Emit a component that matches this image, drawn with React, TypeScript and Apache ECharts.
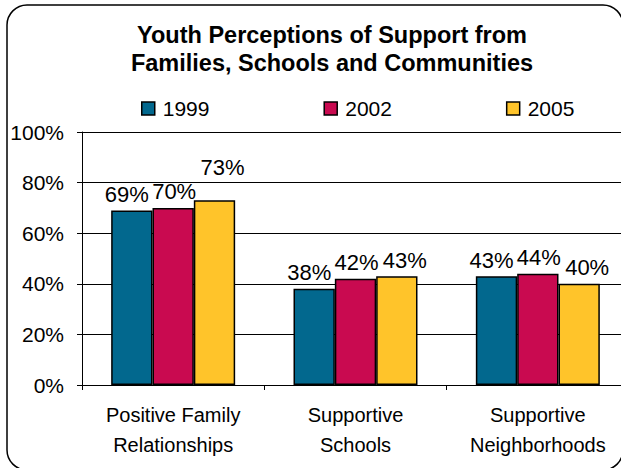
import React, { useEffect, useRef } from "react";
import * as echarts from "echarts";

const titleLines = ["Youth Perceptions of Support from", "Families, Schools and Communities"];
const categories = ["Positive Family\nRelationships", "Supportive\nSchools", "Supportive\nNeighborhoods"];
const seriesNames = ["1999", "2002", "2005"];
const values1999 = [69, 38, 43];
const values2002 = [70, 42, 44];
const values2005 = [73, 43, 40];
const colors = ["#02688E", "#C90A50", "#FFC42A"];
const yTicks = [0, 20, 40, 60, 80, 100];

export default function App() {
  const ref = useRef<HTMLDivElement>(null);
  useEffect(() => {
    if (!ref.current) return;
    const chart = echarts.init(ref.current, null, { renderer: "svg" });
    const font = "'Liberation Sans', Arial, sans-serif";
    const all = [values1999, values2002, values2005];
    const labelOffsets = [[-5, 0], [1, 0], [8, 0]];
    chart.setOption({
      animation: false,
      backgroundColor: "#ffffff",
      textStyle: { fontFamily: font, color: "#000" },
      graphic: [
        {
          type: "rect",
          shape: { x: 7, y: 5, width: 616, height: 465, r: 20 },
          style: { fill: "none", stroke: "#000", lineWidth: 1.5 },
          z: 100,
        },
        {
          type: "text",
          x: 332,
          y: 49,
          style: {
            text: titleLines.join("\n"),
            font: `bold 23.5px ${font}`,
            fill: "#000",
            textAlign: "center",
            textVerticalAlign: "middle",
            lineHeight: 28,
          },
        },
      ],
      legend: {
        data: seriesNames,
        left: 141,
        top: 98,
        padding: 0,
        itemWidth: 13,
        itemHeight: 13,
        itemGap: 114,
        icon: "rect",
        itemStyle: { borderColor: "#000", borderWidth: 1.5 },
        textStyle: { fontSize: 21, fontFamily: font, color: "#000", padding: [0, 0, 0, 3] },
      },
      grid: { left: 82, top: 132, bottom: 83, right: 0, containLabel: false },
      xAxis: {
        type: "category",
        data: categories,
        axisLine: { lineStyle: { color: "#000", width: 1 } },
        axisTick: { show: true, length: 5, lineStyle: { color: "#000" } },
        axisLabel: {
          fontSize: 20,
          fontFamily: font,
          color: "#000",
          lineHeight: 30,
          margin: 15,
          interval: 0,
        },
      },
      yAxis: {
        type: "value",
        min: 0,
        max: 100,
        interval: 20,
        axisLine: { show: true, lineStyle: { color: "#000", width: 1 } },
        axisTick: { show: true, length: 5, lineStyle: { color: "#000" } },
        splitLine: { show: true, lineStyle: { color: "#000", width: 1 } },
        axisLabel: {
          fontSize: 21,
          fontFamily: font,
          color: "#000",
          margin: 18,
          formatter: (v: number) => (yTicks.includes(v) ? `${v}%` : ""),
        },
      },
      series: seriesNames.map((name, si) => ({
        name,
        type: "bar",
        barGap: "0%",
        barCategoryGap: "32%",
        itemStyle: { color: colors[si], borderColor: "#000", borderWidth: 1.5 },
        label: {
          show: true,
          position: "top",
          distance: 5,
          offset: labelOffsets[si],
          fontSize: 22,
          fontFamily: font,
          color: "#000",
          formatter: (p: any) => `${p.value}%`,
        },
        data: all[si].map((v, i) =>
          si === 2 && i === 0 ? { value: v, label: { distance: 22 } } : v
        ),
      })),
    });
    return () => chart.dispose();
  }, []);
  return (
    <div
      ref={ref}
      style={{ position: "fixed", left: 0, top: 0, width: 629, height: 468 }}
    />
  );
}
